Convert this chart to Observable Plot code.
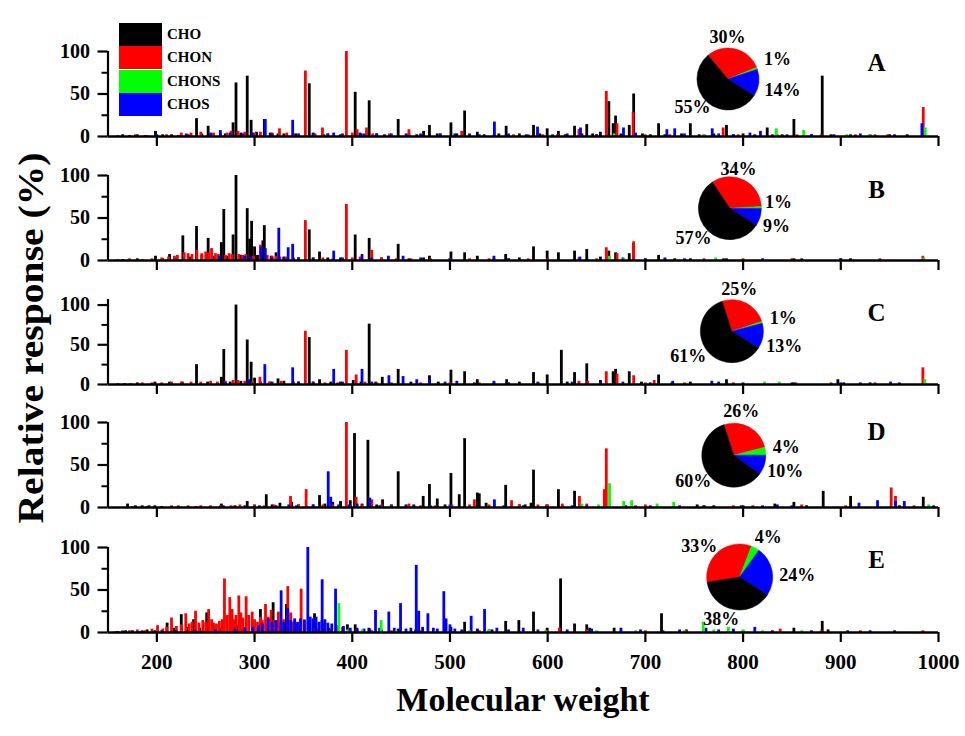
<!DOCTYPE html>
<html><head><meta charset="utf-8">
<script src="https://cdn.jsdelivr.net/npm/d3@7"></script>
<script src="https://cdn.jsdelivr.net/npm/@observablehq/plot@0.6"></script>
<style>
body{margin:0;background:#fff;}
#chart{position:relative;width:965px;height:736px;overflow:hidden;font-family:"Liberation Serif","Times New Roman",serif;font-weight:bold;color:#000;}
#chart svg{position:absolute;left:0;overflow:visible;}
.leg{position:absolute;}
.title{position:absolute;white-space:nowrap;}
</style></head><body><div id="chart"></div>
<script>
// ---------------- data ----------------
const classes = ["CHO", "CHON", "CHONS", "CHOS"];
const colors = ["#000000", "#ff0000", "#00ff00", "#0000ff"];
const panels = ["A", "B", "C", "D", "E"];
const xTicks = [200, 300, 400, 500, 600, 700, 800, 900, 1000];
const yTicks = [0, 50, 100];
const yMinorTicks = [25, 75];

// pie shares: CHO, CHON, CHONS, CHOS (%)
const pieA = [55, 30, 1, 14];
const pieB = [57, 34, 1, 9];
const pieC = [61, 25, 1, 13];
const pieD = [60, 26, 4, 10];
const pieE = [38, 33, 4, 24];

// spectra: [molecular weight, relative response %]
const A_CHO = [[165,2],[172,1],[180,2],[188,1],[198.6,6],[206,2],[215,2],[222,1],[232,2],[240.6,21],[246,3],[252.5,12],[258,3],[270,3],[278,16],[281,63],[286,4],[292.5,71],[296.5,19],[302,5],[310,20],[316,4],[324,3],[330,3],[342,3],[356,62],[360,4],[371,2],[388,2],[403,52],[409,3],[417.3,42],[425,3],[433,2],[447,20],[458,3],[466,2],[473,6],[479,13],[487,3],[501,16],[507,3],[515,30],[528,5],[535,2],[550,3],[557.5,12],[571,3],[585.5,13],[592,3],[599.5,9],[611,6],[618,2],[627.5,12],[635,3],[640,14],[646,3],[654,5],[662.6,41],[667,15],[669.5,24],[675,3],[683.5,13],[688,50],[697,3],[705,2],[713.5,15],[720,2],[737,3],[746,15],[755,2],[770,3],[783,13],[790,2],[800,3],[812,2],[824.7,10],[840,2],[852,20],[870,2],[881,71],[890,2],[910,2],[930,2],[950,2],[968,2]];
const A_CHON = [[160,1],[178,2],[190,1],[210,2],[225,4],[235,4],[245,5],[258,4],[265,5],[272,4],[276,6],[283,6],[290,5],[300,4],[306,5],[318,4],[325.5,9],[333,4],[340,3],[352,77],[362,3],[369.5,10],[375,3],[394,100],[400,4],[405,8],[414.6,10],[421,3],[438,3],[458,8],[470,2],[490,3],[512,6],[520,2],[545,2],[565,2],[580,2],[595,2],[610,2],[632,8],[650,2],[660,53],[671,15],[687.5,28],[700,2],[725,2],[760,2],[779.6,10],[795,2],[835,2],[855,2],[880,2],[915,2],[935,2],[948,2],[984.4,34]];
const A_CHONS = [[668,3],[760,2],[834,9],[862,7],[906,2],[930,2],[986.5,10]];
const A_CHOS = [[200,2],[230,3],[255,4],[265,7],[275,4],[288,3],[298,4],[311,20],[318,3],[339,19],[345,3],[360,3],[375,3],[381,4],[390,3],[408,4],[412,3],[425,3],[440,3],[455,3],[470,3],[490,3],[505,3],[520,3],[530,2],[545.5,17],[560,3],[578,2],[589.6,11],[605,2],[620,3],[633.6,10],[650,2],[677.6,10],[690,4],[722,8],[730,9],[740,3],[768.4,9],[775,3],[790,2],[807,4],[817.8,6],[830,2],[845,2],[870,2],[893,2],[920,3],[955,2],[983,15]];

const B_CHO = [[165,1],[180,2],[198.6,5],[206,2],[213,7],[220,3],[226.6,29],[234,4],[240.6,40],[246,6],[252.5,26],[259,5],[266,21],[268.5,60],[272,5],[278,30],[281,100],[286,6],[292.5,61],[295,25],[297,46],[300,16],[303,6],[308.5,23],[310,41],[317,5],[322,9],[330,4],[345,3],[356,36],[366.5,10],[375,3],[388,3],[403,30],[417.3,26],[430,3],[447,19],[458,2],[473,3],[479,5],[501,10],[515,9],[528,5],[545,2],[557,7],[571,3],[585.5,16],[599.5,11],[611,9],[627.5,11],[640,13],[654,4],[662.6,11],[669.5,9],[683.5,8],[688,20],[713.5,6],[730,2],[746,2],[783,2],[852,2],[910,2]];
const B_CHON = [[160,1],[172,2],[185,1],[195,2],[205,3],[212,4],[218,5],[221,6],[228,9],[232,8],[236,7],[241,12],[246,8],[250,10],[253,9],[256,14],[260,8],[263,7],[270,6],[274,8],[277,7],[284,7],[288,6],[291,7],[299,5],[306,18],[313,6],[318,5],[322,5],[326,4],[332,4],[340,3],[352,47],[360,3],[370,3],[380,2],[394,66],[400,3],[408,4],[420,12],[430,3],[445,2],[460,2],[480,2],[500,2],[520,2],[540,2],[560,2],[580,2],[600,2],[632,3],[650,2],[660,15],[671,8],[688,22],[700,2],[720,2],[760,2],[800,2],[850,2],[900,2],[940,2],[984,5]];
const B_CHONS = [[663,5],[678,2],[772,3],[985,3]];
const B_CHOS = [[264,5],[290,5],[295,4],[306.8,16],[311,14],[318,3],[324.8,38],[330,3],[334.4,15],[339,19],[345,3],[360,3],[381,11],[390,3],[410,7],[420,3],[437,5],[452,5],[470,3],[500,2],[545,5],[560,2],[633,4],[677,3],[700,2],[720,3],[740,2],[780,2],[820,2],[860,2],[900,2]];

const C_CHO = [[167,1],[180,2],[198,3],[213,3],[226,3],[240.6,25],[252,3],[266,9],[268.5,44],[275,3],[281,100],[286,4],[292.5,56],[296.5,28],[300,8],[306,3],[316,3],[324,7],[330,4],[345,3],[356,59],[366.5,6],[378,3],[388,3],[401,5],[409,3],[417.3,76],[424,3],[430.7,9],[447,19],[460,3],[479,11],[488,3],[501,18],[515,16],[528,6],[545,2],[558,6],[571,3],[585.5,15],[599.5,12],[614,43],[620,3],[627.5,15],[640,26],[654,5],[667,16],[669.5,19],[683.5,16],[696,3],[713.5,12],[727,2],[746,3],[783,6],[852,2],[897,6],[903,2],[930,2]];
const C_CHON = [[160,1],[173,1],[185,2],[195,2],[205,2],[215,3],[225,3],[235,3],[245,3],[255,4],[262,3],[270,4],[278,5],[283,5],[290,4],[298,3],[305.5,9],[315,3],[327,4],[340,3],[352,67],[360,3],[372,2],[385,2],[394,43],[404,12],[413,3],[425,2],[440,2],[470,2],[500,2],[530,2],[560,2],[590,2],[632,4],[641,4],[660,16],[671,13],[688,11],[700,2],[709,5],[740,2],[790,2],[854,2],[890,2],[935,2],[984,21]];
const C_CHONS = [[822,3],[837,3],[986,6]];
const C_CHOS = [[270,3],[294,6],[310.5,25],[318,3],[339,21],[345,3],[360,3],[381,19],[390,3],[410,19],[420,3],[437.5,11],[452,10],[466,6],[479,6],[495,3],[507,4],[525,2],[545,4],[560,2],[590,3],[625,3],[654,3],[677,3],[705,2],[728,4],[768,4],[775,3],[800,2],[850,2],[900,2],[920,2],[951,3],[960,2]];

const D_CHO = [[170,4],[178,2],[185,2],[192,2],[198,2],[205,1],[266,4],[280,2],[292.5,7],[300,3],[312,15],[318,3],[326,5],[338,6],[345,3],[366.5,14],[372,4],[380,6],[388,7],[398,8],[402.3,87],[410,4],[416,79],[425,3],[431,9],[440,3],[447,42],[455,3],[463,3],[472.6,13],[479,27],[487,10],[495,3],[501,40],[509.5,15],[515,81],[528,17],[530,16],[537,5],[557,26],[571,3],[577,3],[583,5],[585.5,44],[599,3],[611,21],[627.5,19],[680,2],[753,3],[770,2],[800,2],[832.5,4],[852,6],[865,2],[882,19],[910,13],[960,2],[984.4,12]];
const D_CHON = [[175,1],[190,1],[215,2],[222,2],[232,2],[245,2],[255,2],[265,2],[276,2],[285,3],[300,2],[310,2],[320,3],[336.8,13],[345,3],[352.8,21],[360,3],[370,3],[380,3],[394,100],[404,12],[410,3],[420,9],[430,3],[440,3],[458,4],[470,2],[485,2],[502,3],[520,3],[525,9],[540,3],[563,8],[571,3],[590,3],[600,3],[615,4],[632.5,13],[640,4],[658,21],[660,69],[690,2],[700,3],[760,2],[790,2],[810,2],[860,3],[905,2],[951.6,23],[956,13],[975,2]];
const D_CHONS = [[635,4],[652,3],[663.3,28],[677.8,7],[686,8],[712,4],[729,6],[990,3]];
const D_CHOS = [[240,1],[268,2],[290,2],[305,2],[322,2],[335,3],[343,2],[360,3],[375.4,42],[378,12],[386,3],[397,3],[405,4],[418,11],[428,2],[440,2],[455,2],[463,2],[480,2],[500,3],[545.5,9],[555,2],[575,2],[625,2],[640,2],[705,2],[735,2],[760,2],[798,2],[820,2],[835,3],[850,2],[918.6,5],[937.6,8],[956,7],[965,7],[995,2]];

const E_CHO = [[160,1],[168,2],[175,2],[182,1],[190,3],[198,2],[210.5,11],[218,5],[225,21],[231,6],[237.6,15],[244,5],[251,23],[258,6],[266,5],[275,7],[282,8],[290,6],[298,8],[306,27],[312,10],[319,35],[326,10],[332.6,33],[340,12],[347,8],[361.4,22],[369,14],[376,5],[395,9],[403,9],[417,5],[430,3],[447,4],[465,3],[501,6],[515,12],[528,4],[543,3],[557,13],[570.5,14],[585.5,24],[599.5,5],[613.2,63],[627.5,10],[640,9],[643,5],[668,5],[716.5,22],[742,3],[790,2],[852,5],[881,13],[887,3]];
const E_CHON = [[158,1],[165,2],[172,2],[180,3],[188,2],[195,4],[200.7,8],[206,4],[210,6],[215,17],[220,7],[225,9],[229.6,22],[233,10],[236,12],[239.6,25],[243,11],[247,14],[250,12],[253,27],[256,15],[258,11],[261,10],[264,13],[267,15],[269.2,63],[272,20],[274.7,41],[277,27],[279,15],[281,20],[283.9,43],[286,23],[288,17],[291.4,42],[294,20],[297.6,24],[300,15],[303,12],[306,18],[308,14],[311.2,33],[314,18],[317,26],[320,14],[324.4,24],[327,12],[330,15],[334,54],[337,23],[340,12],[343,10],[347.7,51],[351,15],[355,8],[360,6],[365,4],[370,11],[378,3],[390,6],[405,3],[420,2],[440,2],[470,2],[500,2],[530,2],[560,2],[600,2],[612,5],[640,3],[700,2],[742,2],[800,2],[838,4],[880,2],[920,2],[984,2]];
const E_CHONS = [[386.3,34],[395,3],[410,3],[429.6,14],[445,2],[520,2],[540,3],[598,2],[650,2],[690,2],[740,2],[759.2,12],[770,3],[785,6],[800,3],[820,2],[860,2]];
const E_CHOS = [[165,1],[185,2],[205,2],[220,2],[240,2],[260,3],[280,4],[290,5],[298,6],[304,8],[308,10],[314,16],[318,12],[322,14],[327.2,49],[330,12],[334,28],[337,14],[341,16],[344,12],[347,16],[351,14],[354.5,100],[357,18],[360,16],[363,18],[366,12],[369.2,62],[372,15],[375,11],[379,10],[382.9,51],[386,8],[391,7],[398,5],[405,5],[412,4],[418,4],[423.8,26],[428,5],[437.4,24],[443,5],[449.4,34],[455,4],[460,5],[465.5,79],[468,25],[472,6],[477.4,22],[483,5],[487,4],[493.7,48],[496,16],[500,9],[505,4],[512,3],[521.7,19],[528,3],[535.4,27],[540,3],[548,5],[560,3],[575,5],[590,3],[620,3],[645,4],[675,5],[695,3],[718,2],[735,3],[762,5],[775,3],[790,4],[812,6],[830,2],[870,2],[907,2],[930,2],[955,2]];

// ---------------- layout (positions / sizes / styles) ----------------
const spectra = {
  A: {CHO: A_CHO, CHON: A_CHON, CHONS: A_CHONS, CHOS: A_CHOS},
  B: {CHO: B_CHO, CHON: B_CHON, CHONS: B_CHONS, CHOS: B_CHOS},
  C: {CHO: C_CHO, CHON: C_CHON, CHONS: C_CHONS, CHOS: C_CHOS},
  D: {CHO: D_CHO, CHON: D_CHON, CHONS: D_CHONS, CHOS: D_CHOS},
  E: {CHO: E_CHO, CHON: E_CHON, CHONS: E_CHONS, CHOS: E_CHOS}
};
const pies = {A: pieA, B: pieB, C: pieC, D: pieD, E: pieE};
const drawOrder = ["CHO", "CHON", "CHOS", "CHONS"];

const W = 965, mL = 107.5, mR = 27, mT = 30, plotH = 85, mB = 14, mBLast = 50;
const zeroY = {A: 136, B: 259.5, C: 384, D: 507.3, E: 631.7};
const yMax = {A: 100, B: 100, C: 107, D: 100, E: 100};
// pie centre (data units), start angle (deg, clockwise from 12 o'clock), radius px
const pieLayout = {
  A: {c: [785, 67], start: 320, r: 31, off: [[-36,28],[-1,-42],[49,-20],[54,11]]},
  B: {c: [787, 61], start: 326, r: 31.5, off: [[-37,30],[8,-39],[48,-6],[46,18]]},
  C: {c: [789, 66.5], start: 342, r: 31.5, off: [[-44,25],[7,-42],[51,-13],[52,15]]},
  D: {c: [791, 61], start: 342, r: 32, off: [[-41,26],[7,-44],[52,-8],[51,16]]},
  E: {c: [797, 64.7], start: 261, r: 33, off: [[-19,42],[-41,-31],[28,-40],[57,-2]]}
};
const letterY = {A: 86, B: 83.5, C: 90.5, D: 89, E: 85};
const FONT = '"Liberation Serif", "Times New Roman", serif';

const colorOf = Object.fromEntries(classes.map((c, i) => [c, colors[i]]));

function pieMark(shares, L) {
  return (index, scales) => {
    const cx = scales.x(L.c[0]), cy = scales.y(L.c[1]);
    const order = [1, 2, 3, 0]; // CHON, CHONS, CHOS, CHO clockwise
    const a0 = L.start * Math.PI / 180;
    const arcs = d3.pie().sort(null).value(i => shares[i]).startAngle(a0).endAngle(a0 + 2 * Math.PI)(order);
    const g = d3.create("svg:g").attr("transform", `translate(${cx},${cy})`);
    const arc = d3.arc().innerRadius(0).outerRadius(L.r);
    g.selectAll("path").data(arcs).join("path")
      .attr("d", arc).attr("fill", d => colors[d.data]).attr("stroke", d => colors[d.data]).attr("stroke-width", 0.5);
    return g.node();
  };
}

const chart = document.getElementById("chart");

panels.forEach((p, pi) => {
  const last = pi === panels.length - 1;
  const rows = [];
  drawOrder.forEach(cls => spectra[p][cls].forEach(([mw, v]) => rows.push({mw, v, cls})));
  const shares = pies[p];
  const L = pieLayout[p];
  const height = mT + plotH + (last ? mBLast : mB);
  const labelMarks = classes.map((c, i) => Plot.text([shares[i]], {
    x: () => L.c[0], y: () => L.c[1], text: d => d + "%",
    dx: L.off[i][0], dy: L.off[i][1], fontSize: 18, fontWeight: "bold", fill: "#000"
  }));
  const svg = Plot.plot({
    width: W, height,
    marginLeft: mL, marginRight: mR, marginTop: mT, marginBottom: last ? mBLast : mB,
    style: {background: "transparent", fontFamily: FONT, color: "#000", overflow: "visible"},
    x: {domain: [150, 1000], label: null},
    y: {domain: [0, yMax[p]], label: null},
    color: {domain: classes, range: colors},
    marks: [
      Plot.ruleX(rows, {x: "mw", y1: 0, y2: "v", stroke: d => colorOf[d.cls], strokeWidth: 2.8}),
      Plot.ruleY([0], {strokeWidth: 2.6, stroke: "#000"}),
      Plot.ruleX([150], {strokeWidth: 2.2, stroke: "#000"}),
      Plot.axisY({ticks: yTicks, tickSize: 10, tickPadding: 8, strokeWidth: 2.2, fontSize: 20, fontWeight: "bold", label: null, tickFormat: d => String(d)}),
      Plot.axisY({ticks: yMinorTicks, tickSize: 6, strokeWidth: 2, label: null, tickFormat: () => ""}),
      last
        ? Plot.axisX({ticks: xTicks, tickSize: 10, tickPadding: 12, strokeWidth: 2.2, fontSize: 21, fontWeight: "bold", label: null, tickFormat: d => String(d)})
        : Plot.axisX({ticks: xTicks, tickSize: 10, strokeWidth: 2.2, label: null, tickFormat: () => ""}),
      pieMark(shares, L),
      ...labelMarks,
      Plot.text([p], {x: () => 936.6, y: () => letterY[p], text: d => d, fontSize: 25, fontWeight: "bold", fill: "#000"})
    ]
  });
  svg.style.top = (zeroY[p] - mT - plotH) + "px";
  chart.appendChild(svg);
});

// legend
classes.forEach((c, i) => {
  const box = document.createElement("div");
  box.className = "leg";
  Object.assign(box.style, {left: "119px", top: (23 + i * 23.3) + "px", width: "43px", height: "23px", background: colors[i]});
  chart.appendChild(box);
  const t = document.createElement("div");
  t.className = "leg";
  Object.assign(t.style, {left: "167px", top: (23 + i * 23.3 + 3) + "px", fontSize: "15px", lineHeight: "17px"});
  t.textContent = c;
  chart.appendChild(t);
});

// axis titles
const xt = document.createElement("div");
xt.className = "title";
xt.textContent = "Molecular weight";
Object.assign(xt.style, {left: "523px", top: "700px", fontSize: "34px", transform: "translate(-50%,-50%)"});
chart.appendChild(xt);

const yt = document.createElement("div");
yt.className = "title";
yt.textContent = "Relative response (%)";
Object.assign(yt.style, {left: "31px", top: "338px", fontSize: "36px", transform: "translate(-50%,-50%) rotate(-90deg) scaleX(1.1)"});
chart.appendChild(yt);
</script>
</body></html>
